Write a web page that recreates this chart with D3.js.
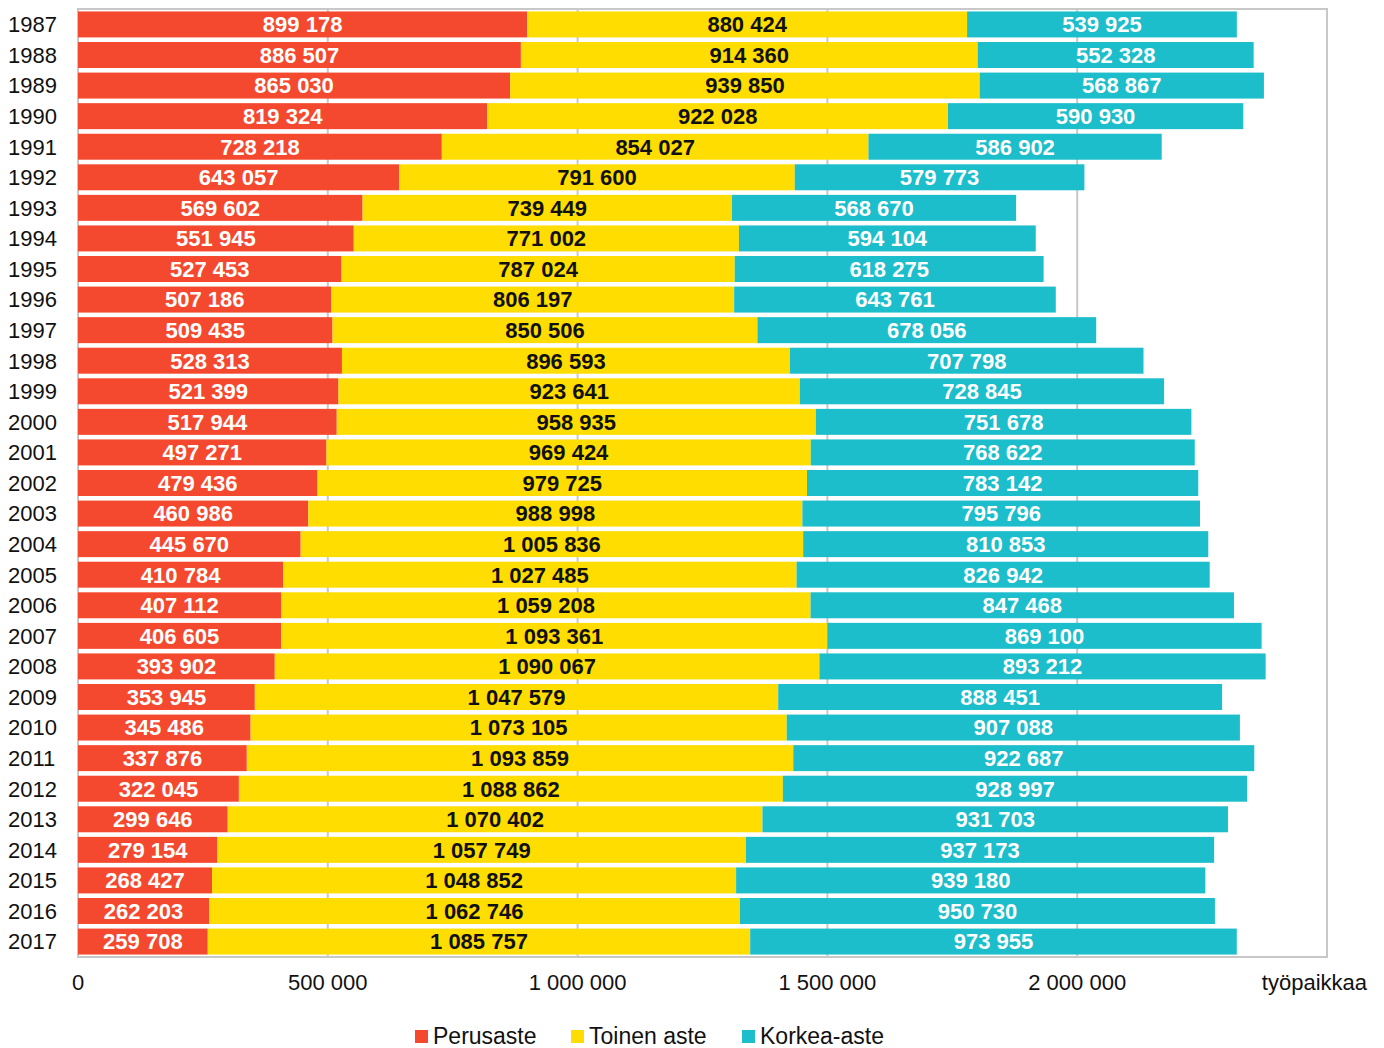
<!DOCTYPE html>
<html>
<head>
<meta charset="utf-8">
<script src="https://cdn.jsdelivr.net/npm/d3@7"></script>
<style>
  body { margin: 0; background: #fff; }
  svg text { font-family: "Liberation Sans", Arial, sans-serif; }
</style>
</head>
<body>
<svg id="chart" width="1384" height="1048"></svg>
<script>
// years on the y axis
var years = [1987,1988,1989,1990,1991,1992,1993,1994,1995,1996,1997,1998,1999,2000,2001,2002,
  2003,2004,2005,2006,2007,2008,2009,2010,2011,2012,2013,2014,2015,2016,2017];

// series values, työpaikkaa
var perusaste = [899178,886507,865030,819324,728218,643057,569602,551945,527453,507186,509435,
  528313,521399,517944,497271,479436,460986,445670,410784,407112,406605,393902,353945,345486,
  337876,322045,299646,279154,268427,262203,259708];
var toinenAste = [880424,914360,939850,922028,854027,791600,739449,771002,787024,806197,850506,
  896593,923641,958935,969424,979725,988998,1005836,1027485,1059208,1093361,1090067,1047579,
  1073105,1093859,1088862,1070402,1057749,1048852,1062746,1085757];
var korkeaAste = [539925,552328,568867,590930,586902,579773,568670,594104,618275,643761,678056,
  707798,728845,751678,768622,783142,795796,810853,826942,847468,869100,893212,888451,907088,
  922687,928997,931703,937173,939180,950730,973955];

var seriesNames = ["Perusaste", "Toinen aste", "Korkea-aste"];
var seriesColors = ["#F5492F", "#FFDD00", "#1CBECB"];
var labelColors = ["#fff", "#111", "#fff"];
var xTicks = [0, 500000, 1000000, 1500000, 2000000];

var svg = d3.select("#chart");
var plotLeft = 78, plotRight = 1327, plotTop = 9, plotBottom = 957;

var x = d3.scaleLinear().domain([0, 2500000]).range([plotLeft, plotRight]);
var y = d3.scaleBand().domain(years).range([plotTop, plotBottom]).paddingInner(0.15).paddingOuter(0.08);

// finnish number format with space thousands separator
var fmt = function(v) {
    return d3.format(",")(v).replace(/,/g, " ");
};

var rows = years.map(function(yr, i) {
    return { year: yr, Perusaste: perusaste[i], "Toinen aste": toinenAste[i], "Korkea-aste": korkeaAste[i] };
});
var stacked = d3.stack().keys(seriesNames)(rows);

// plot frame
svg.append("rect")
    .attr("x", plotLeft).attr("y", plotTop)
    .attr("width", plotRight - plotLeft).attr("height", plotBottom - plotTop)
    .attr("fill", "none").attr("stroke", "#c8c8c8").attr("stroke-width", 2);

// gridlines
svg.append("g").selectAll("line")
    .data(xTicks.slice(1))
    .join("line")
    .attr("x1", function(d) { return x(d); })
    .attr("x2", function(d) { return x(d); })
    .attr("y1", plotTop).attr("y2", plotBottom)
    .attr("stroke", "#c8c8c8").attr("stroke-width", 2);

// bars
var layers = svg.append("g").selectAll("g")
    .data(stacked)
    .join("g")
    .attr("fill", function(d, i) { return seriesColors[i]; });

layers.selectAll("rect")
    .data(function(d) { return d; })
    .join("rect")
    .attr("x", function(d) { return x(d[0]); })
    .attr("y", function(d) { return y(d.data.year); })
    .attr("width", function(d) { return x(d[1]) - x(d[0]); })
    .attr("height", y.bandwidth());

// value labels
stacked.forEach(function(layer, si) {
    svg.append("g").selectAll("text")
        .data(layer)
        .join("text")
        .attr("x", function(d) { return (x(d[0]) + x(d[1])) / 2; })
        .attr("y", function(d) { return y(d.data.year) + y.bandwidth() / 2; })
        .attr("dy", "0.36em")
        .attr("text-anchor", "middle")
        .attr("font-size", 22)
        .attr("font-weight", "bold")
        .attr("fill", labelColors[si])
        .text(function(d) { return fmt(d.data[layer.key]); });
});

// y axis labels
svg.append("g").selectAll("text")
    .data(years)
    .join("text")
    .attr("x", 8)
    .attr("y", function(d) { return y(d) + y.bandwidth() / 2; })
    .attr("dy", "0.36em")
    .attr("font-size", 22)
    .attr("fill", "#111")
    .text(function(d) { return d; });

// x axis labels
svg.append("g").selectAll("text")
    .data(xTicks)
    .join("text")
    .attr("x", function(d) { return x(d); })
    .attr("y", 990)
    .attr("text-anchor", "middle")
    .attr("font-size", 22)
    .attr("fill", "#111")
    .text(function(d) { return fmt(d); });

svg.append("text")
    .attr("x", 1367).attr("y", 990)
    .attr("text-anchor", "end")
    .attr("font-size", 22)
    .attr("fill", "#111")
    .text("työpaikkaa");

// legend
var legendX = [415, 571, 742];
var legend = svg.append("g").selectAll("g")
    .data(seriesNames)
    .join("g")
    .attr("transform", function(d, i) { return "translate(" + legendX[i] + ",1036)"; });
legend.append("rect")
    .attr("x", 0).attr("y", -6)
    .attr("width", 13).attr("height", 13)
    .attr("fill", function(d, i) { return seriesColors[i]; });
legend.append("text")
    .attr("x", 18).attr("dy", "0.36em")
    .attr("font-size", 23)
    .attr("fill", "#111")
    .text(function(d) { return d; });
</script>
</body>
</html>
